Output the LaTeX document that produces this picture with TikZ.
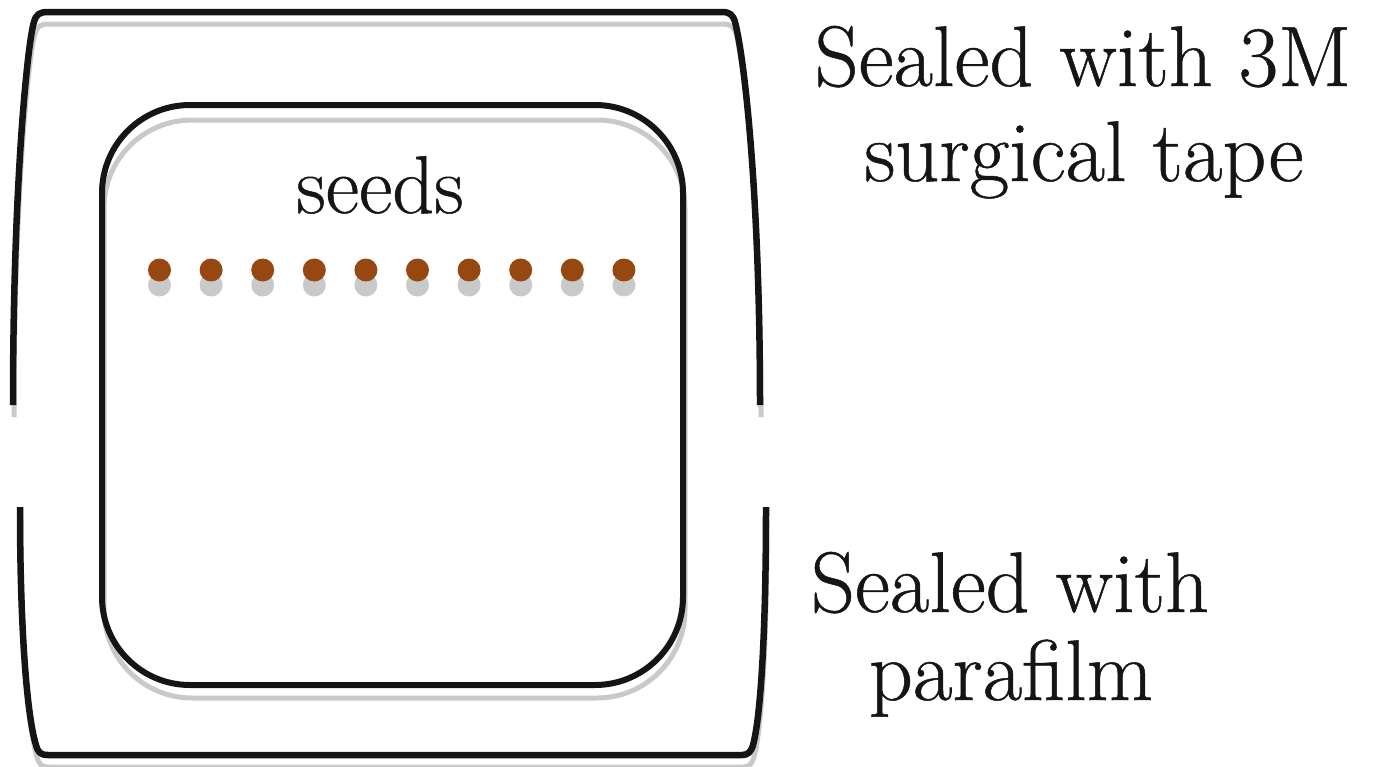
\documentclass[tikz,border=0pt]{standalone}
\usepackage{fontspec}
\newfontfamily\labelfont{Latin Modern Roman}[FakeBold=0.6]
\definecolor{shadowgrey}{HTML}{C8CACA}
\definecolor{seedbrown}{HTML}{964810}
\definecolor{inkblack}{HTML}{151515}
\begin{document}
\begin{tikzpicture}[x=1pt,y=-1pt,
  frame/.style={draw=inkblack, line width=6.5pt, line join=round},
  frameshadow/.style={draw=shadowgrey, line width=5pt, line join=round},
  seeddot/.style={fill=seedbrown, draw=none},
  seedshadow/.style={fill=shadowgrey, draw=none},
  lbl/.style={font=\labelfont\fontsize{86}{96}\selectfont, text=inkblack, inner sep=0pt, anchor=base},
  seedlbl/.style={font=\labelfont\fontsize{82}{92}\selectfont, text=inkblack, inner sep=0pt, anchor=base}]
\useasboundingbox (0,0) rectangle (1373,766);
% shadows
\begin{scope}[shift={(1,12)}]
\draw[frameshadow] (13,405) .. controls (13,180) and (28,40) .. (34,22) .. controls (36,14) and (40,12) .. (48,12) -- (722,12) .. controls (730,12) and (733,15) .. (735,22) .. controls (745,60) and (760,200) .. (760,405);
\draw[frameshadow] (20,507) .. controls (20,640) and (28,720) .. (36,745) .. controls (38,752) and (40,755) .. (48,755) -- (742,755) .. controls (748,755) and (751,752) .. (753,745) .. controls (760,720) and (766,640) .. (766,507);
\end{scope}
\draw[frameshadow, rounded corners=88pt] (104,120) rectangle (685,698);
\foreach \i in {0,...,9} {
  \fill[seedshadow] ({159.5+51.6*\i},285) circle (11.5pt);
}
% frames
\draw[frame] (13,405) .. controls (13,180) and (28,40) .. (34,22) .. controls (36,14) and (40,12) .. (48,12) -- (722,12) .. controls (730,12) and (733,15) .. (735,22) .. controls (745,60) and (760,200) .. (760,405);
\draw[frame] (20,507) .. controls (20,640) and (28,720) .. (36,745) .. controls (38,752) and (40,755) .. (48,755) -- (742,755) .. controls (748,755) and (751,752) .. (753,745) .. controls (760,720) and (766,640) .. (766,507);
\draw[frame, line width=6pt, rounded corners=88pt] (102,105) rectangle (683,685);
% seeds
\foreach \i in {0,...,9} {
  \fill[seeddot] ({159.5+51.6*\i},270) circle (11.5pt);
}
% labels
\node[seedlbl] (seeds) at (380,213) {seeds};
\node[lbl] (tapeA) at (1083,86) {Sealed with 3M};
\node[lbl] (tapeB) at (1084,181) {surgical tape};
\node[lbl] (paraA) at (1010,612) {Sealed with};
\node[lbl] (paraB) at (1011,700) {parafilm};
\end{tikzpicture}
\end{document}
